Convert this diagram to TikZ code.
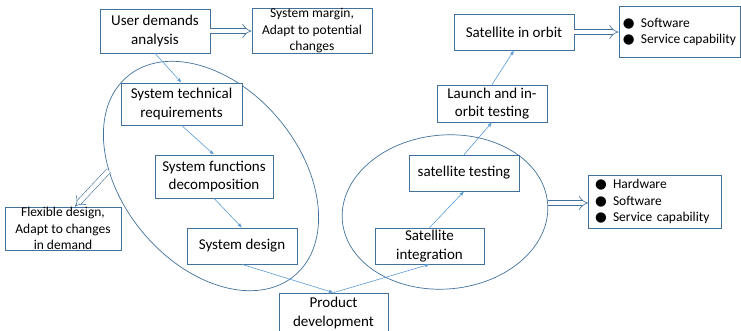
\documentclass[tikz,border=0pt]{standalone}
\usepackage{fontspec}
\setmainfont{Carlito}
\newfontfamily\symfont{DejaVu Sans}
\usetikzlibrary{arrows.meta,positioning,shapes.geometric}
\definecolor{boxblue}{RGB}{65,113,156}
\definecolor{linkblue}{RGB}{91,155,213}
\tikzset{%
	stage/.style    = {draw=boxblue, fill=white, rectangle, line width=0.7pt, align=center, inner sep=1pt, font=\fontsize{15pt}{18.5pt}\selectfont},
	note/.style     = {draw=boxblue, fill=white, rectangle, line width=0.7pt, align=center, inner xsep=1pt, inner ysep=0pt, font=\fontsize{13.5pt}{16.5pt}\selectfont},
	bullets/.style  = {note, align=left, inner xsep=6.5pt}, % bullet lists
	phase/.style    = {draw=boxblue, ellipse, line width=0.7pt, inner sep=0pt},
	link/.style     = {draw=linkblue, line width=0.6pt, -{Latex[length=4.5pt,width=3.5pt]}},
	hollow/.style   = {draw=boxblue, line width=0.6pt, double=white, double distance=4.5pt, -{Implies[scale=1.35]}},
}
\newcommand{\dotitem}{\makebox[18pt][l]{\symfont ●}}

\begin{document}
\begin{tikzpicture}[on grid]
	\useasboundingbox (0,0) rectangle (741pt,-330pt);
	% the two loops
	\node [phase, minimum width=260pt, minimum height=177pt, rotate=-50] (designloop) at (211pt,-176pt) {};
	\node [phase, minimum width=206pt, minimum height=154pt, rotate=5] (testloop) at (445pt,-212pt) {};
	
	\node [stage, minimum width=110pt, minimum height=44pt] (ud) at (155pt,-31pt) {User demands\\analysis};
	\node [note, minimum width=120pt, minimum height=44pt] (sm) [right=157pt of ud] {System margin,\\Adapt to potential\\changes};
	\node [stage, minimum width=121pt, minimum height=42pt] (st) [below right=73pt and 26.5pt of ud] {System technical\\requirements};
	\node [stage, minimum width=118pt, minimum height=43pt] (sf) [below right=72.5pt and 32.5pt of st] {System functions\\decomposition};
	\node [stage, minimum width=110pt, minimum height=36pt] (sd) [below right=69.5pt and 28pt of sf] {System design};
	\node [note, minimum width=116pt, minimum height=43pt] (fd) [above left=17.5pt and 179pt of sd] {Flexible design,\\Adapt to changes\\in demand};
	\node [stage, minimum width=109pt, minimum height=40pt] (pd) [below right=67pt and 91.5pt of sd] {Product\\development};
	\node [stage, minimum width=109pt, minimum height=36pt] (si) [above right=67pt and 96pt of pd] {Satellite\\integration};
	\node [stage, minimum width=110pt, minimum height=36pt] (stt) [above right=73pt and 34.5pt of si] {satellite testing};
	\node [stage, minimum width=110pt, minimum height=37pt] (lt) [above right=69.5pt and 28pt of stt] {Launch and in-\\orbit testing};
	\node [stage, minimum width=120pt, minimum height=36pt] (so) [above right=71.5pt and 22pt of lt] {Satellite in orbit};
	\node [bullets, inner xsep=4pt, minimum width=121pt, minimum height=51pt] (sw) [right=165.5pt of so] {\dotitem Software\\\dotitem Service capability};
	\node [bullets, text width=120pt, minimum height=53pt] (hw) [above right=10.5pt and 210pt of testloop] {\dotitem Hardware\\\dotitem Software\\\dotitem Service capability};
	
	\draw [link] (ud.south) -- (st.north);
	\draw [link] (st.south) -- (sf.north);
	\draw [link] (sf.south) -- (sd.north);
	\draw [link] (sd.south) -- (pd.north);
	\draw [link] (pd.north) -- (si.south);
	\draw [link] (si.north) -- (stt.south);
	\draw [link] (stt.north) -- (lt.south);
	\draw [link] (lt.north) -- (so.south);
	
	\draw [hollow] (ud.east) -- (sm.west);
	\draw [hollow] (so.east) -- (sw.west);
	\draw [hollow] (testloop.east) -- (testloop.east -| hw.west);
	\draw [hollow] (designloop.227) -- ([xshift=12pt]fd.north);
\end{tikzpicture}
\end{document}
